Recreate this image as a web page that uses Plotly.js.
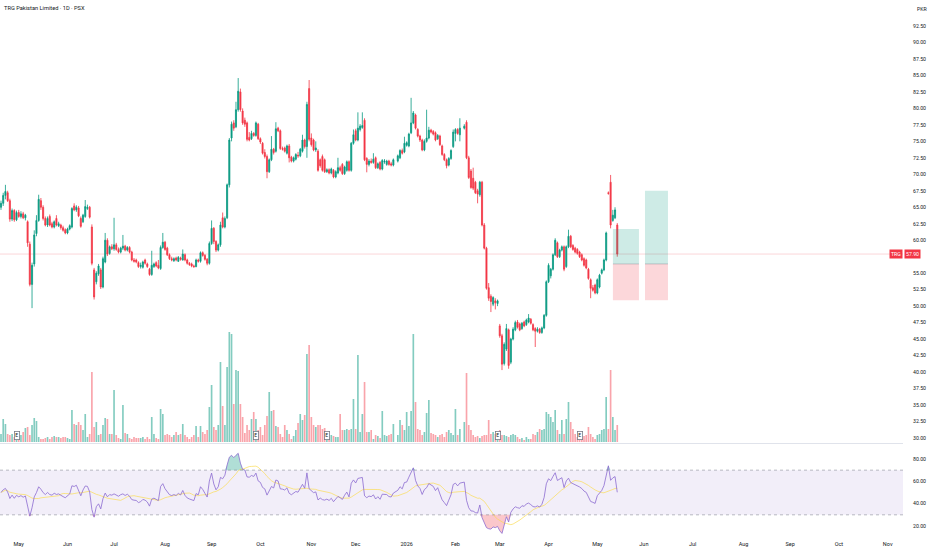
<!DOCTYPE html>
<html><head><meta charset="utf-8">
<script src="https://cdn.plot.ly/plotly-3.0.1.min.js"></script>
<style>html,body{margin:0;padding:0;background:#fff}#chart{width:932px;height:550px}</style>
</head><body><div id="chart"></div>
<script>
// ---- data (TRG Pakistan Limited, daily, PSX) ----
const startDate = '2025-04-21';
const holidays = ['2025-12-25', '2026-02-05'];

const open = [
65.0,65.6,66.8,67.2,66.0,63.2,64.5,63.1,64.2,63.6,
64.0,63.4,62.8,59.4,53.3,56.4,61.0,63.0,66.0,65.0,
63.3,62.3,63.6,62.5,62.0,63.3,62.2,62.3,61.9,61.6,
61.1,61.7,62.0,65.2,64.6,64.9,63.3,62.8,63.6,64.8,
65.0,62.0,55.5,53.7,54.9,55.5,52.9,56.7,60.0,58.0,
59.0,58.7,59.3,58.6,58.2,58.8,59.1,58.5,58.9,58.2,
57.0,57.0,56.6,56.0,55.9,57.0,56.4,55.6,54.8,56.0,
56.6,56.2,55.7,58.9,59.7,58.8,57.8,57.2,56.9,57.3,
56.8,57.3,57.0,57.8,57.0,56.5,56.4,56.1,56.0,57.0,
56.8,58.1,57.7,57.1,56.5,59.5,61.8,59.8,58.5,59.3,
63.4,62.0,63.4,68.4,75.5,77.8,77.2,79.8,82.5,79.6,
78.2,77.8,75.6,75.4,76.2,75.9,77.6,75.4,74.7,73.3,
72.7,70.4,72.2,73.8,73.5,77.0,76.6,73.9,74.0,73.2,
74.3,72.6,72.0,72.3,72.9,72.8,73.5,75.2,74.2,83.0,
75.5,75.2,73.7,73.5,72.2,72.7,72.2,70.4,70.7,70.2,
70.6,69.6,70.2,71.0,71.5,70.1,70.6,71.9,70.6,74.7,
76.6,75.2,76.8,77.1,78.2,72.4,71.5,72.0,71.8,72.5,
71.0,71.8,70.8,71.9,71.5,72.0,71.6,71.4,72.0,72.5,
73.6,73.4,74.4,74.3,76.3,77.8,79.0,76.8,75.8,75.2,
73.7,75.0,75.5,76.7,76.5,76.3,75.4,75.8,74.3,73.0,
72.2,71.4,72.4,74.2,76.2,76.8,76.0,77.0,77.9,72.5,
70.5,69.4,68.8,67.5,66.9,68.8,62.3,58.8,52.8,51.5,
50.3,50.8,50.4,47.0,45.5,41.3,43.5,46.4,41.5,45.0,
46.4,47.6,47.3,46.6,47.6,47.2,47.6,48.0,47.2,46.6,
46.2,46.5,46.0,46.7,48.6,53.7,54.6,55.6,57.8,59.6,
57.5,58.5,59.0,56.0,59.0,60.6,59.2,58.8,58.6,58.2,
57.8,57.2,57.0,55.6,54.0,52.8,53.2,52.0,52.9,55.0,
55.5,57.0,67.2,68.8,63.0,63.4,62.3];

const high = [
66.0,67.2,68.4,67.5,66.3,64.8,64.7,64.5,64.6,64.4,
64.3,64.0,63.0,59.8,56.6,61.5,63.8,66.9,66.4,65.3,
63.6,63.6,63.9,62.8,63.0,63.8,62.8,62.5,62.2,61.8,
61.9,62.4,65.0,65.6,65.3,65.2,63.6,64.0,66.1,65.4,
65.2,62.4,55.8,55.3,56.4,55.8,57.5,61.1,60.3,59.2,
59.4,63.4,59.6,58.9,59.0,60.8,59.3,59.1,59.1,58.4,
57.3,57.2,56.8,56.6,56.9,57.2,56.6,55.8,58.4,56.6,
56.8,57.0,59.2,61.1,59.9,59.0,58.0,57.5,57.4,57.5,
57.6,57.5,58.6,58.0,57.2,56.7,56.6,56.3,57.2,57.2,
58.3,58.3,57.9,57.3,59.8,63.0,62.0,60.0,59.5,62.8,
64.2,63.6,68.6,75.5,78.0,78.2,81.0,84.6,83.0,80.0,
78.6,78.0,76.4,76.6,76.4,78.0,77.8,75.6,74.9,73.8,
73.0,72.4,75.8,74.0,77.9,77.2,76.8,74.2,74.2,74.5,
74.6,72.8,72.7,73.2,73.4,74.0,76.0,75.4,81.0,84.3,
76.2,75.4,75.0,73.8,72.4,73.0,72.4,70.9,70.9,71.0,
70.8,70.6,72.5,71.3,71.7,71.3,72.1,72.1,74.9,76.8,
76.9,79.4,77.6,79.4,78.5,72.6,72.3,72.4,73.2,72.7,
71.8,72.0,72.3,72.3,72.2,72.2,71.9,72.4,73.0,73.8,
73.9,75.7,75.0,76.3,81.6,79.6,79.2,77.0,76.0,75.4,
75.3,79.8,77.2,76.9,76.7,76.5,76.1,76.0,74.5,73.2,
72.4,72.6,73.8,76.8,77.0,77.0,78.5,77.6,78.2,72.8,
70.8,71.0,69.0,67.8,69.0,69.0,62.6,59.0,53.5,51.8,
51.5,51.2,51.0,47.3,45.8,44.5,47.3,46.6,45.2,46.8,
47.8,47.9,47.5,47.6,47.8,48.1,48.8,48.2,47.4,46.8,
46.8,46.7,46.9,48.8,53.9,56.5,55.8,58.0,60.3,59.8,
58.7,59.2,59.2,59.2,61.6,60.8,59.4,59.0,58.8,58.4,
58.0,57.4,57.2,55.8,54.2,53.2,53.4,54.2,54.9,55.7,
57.2,61.3,67.4,69.9,64.6,65.0,62.6];

const low = [
64.6,65.2,66.2,65.8,62.8,62.9,62.8,62.9,63.4,63.3,
63.2,63.0,59.0,53.0,49.7,56.0,60.6,62.8,64.6,63.0,
62.1,62.0,62.1,61.8,61.8,62.1,62.0,61.6,61.3,60.9,
60.9,61.5,61.8,64.4,64.3,63.5,61.9,62.6,63.4,64.6,
63.3,56.2,51.0,53.3,54.6,52.6,52.7,56.5,57.6,57.8,
58.5,58.4,58.4,58.0,58.0,58.5,58.3,58.3,58.0,56.8,
56.6,56.5,55.8,55.7,55.7,56.3,55.8,54.6,54.6,55.8,
55.9,55.6,55.5,58.7,58.4,57.6,57.0,56.8,56.7,56.8,
56.7,56.9,56.9,56.8,56.3,56.1,55.9,55.8,55.9,56.6,
56.6,57.5,56.9,56.2,56.3,59.3,59.4,58.2,58.3,59.0,
61.8,61.8,63.2,68.0,75.0,76.6,77.0,79.5,79.5,77.5,
77.2,75.0,75.0,75.2,75.7,75.7,75.2,74.6,73.0,72.4,
69.4,70.2,72.0,73.0,73.3,76.4,73.7,73.6,73.3,73.0,
71.8,71.8,71.8,72.1,72.5,72.6,73.3,73.9,72.5,75.0,
74.2,73.5,73.4,70.4,71.0,70.4,70.2,70.2,70.0,70.0,
69.4,69.4,70.0,70.4,69.9,69.9,70.4,70.4,70.4,74.5,
75.0,75.0,76.5,76.9,72.0,70.3,71.2,71.6,71.6,70.8,
70.8,70.6,70.6,71.6,71.3,71.3,71.2,71.2,71.8,72.3,
73.0,73.2,74.2,74.1,76.1,77.6,76.8,75.6,74.9,73.5,
73.5,74.8,75.3,76.2,75.9,75.0,75.2,74.3,72.8,72.0,
70.9,71.2,72.2,74.0,75.0,76.0,75.0,76.8,72.3,69.3,
67.8,67.6,67.0,65.6,66.6,62.1,58.6,52.5,50.8,49.1,
50.0,49.5,50.0,45.2,40.3,41.0,43.2,40.5,41.2,44.8,
46.2,46.6,46.2,46.4,46.8,47.0,47.4,47.2,46.2,43.8,
46.0,45.8,45.8,46.5,48.4,53.5,54.2,55.4,57.6,57.3,
57.3,58.3,55.3,55.8,58.8,58.8,58.4,58.0,57.8,57.3,
56.8,56.0,55.6,54.0,51.2,52.2,51.8,51.8,52.7,54.8,
55.3,56.8,66.9,61.8,62.8,63.2,57.5];

const close = [
65.6,66.8,67.4,66.0,63.2,64.5,63.1,64.2,63.6,64.0,
63.4,63.8,59.6,53.3,56.2,60.8,63.0,66.2,65.0,63.3,
62.3,63.3,62.3,62.0,62.8,62.3,62.5,61.9,61.5,61.1,
61.7,62.2,64.8,64.6,65.0,63.7,62.1,63.8,65.1,65.0,
63.5,56.5,51.4,55.0,56.1,52.9,57.2,60.0,57.9,59.0,
58.7,59.3,58.6,58.2,58.8,59.1,58.5,58.9,58.2,57.0,
56.8,56.7,56.0,56.2,56.7,56.5,56.0,54.8,56.2,56.4,
56.1,55.8,58.9,59.7,58.6,57.8,57.2,57.0,57.2,57.0,
57.4,57.1,57.9,57.0,56.5,56.3,56.1,56.0,57.0,56.8,
58.1,57.7,57.1,56.5,59.5,61.8,59.8,58.5,59.3,62.3,
62.0,63.3,68.4,75.2,77.6,77.0,79.8,82.6,79.8,77.8,
77.6,75.3,75.2,76.2,75.9,77.8,75.4,74.9,73.2,72.7,
70.4,72.2,73.8,73.3,76.9,76.6,73.9,73.8,73.5,74.3,
72.5,72.0,72.5,73.0,72.8,73.8,75.2,74.2,80.6,75.3,
74.5,73.7,74.0,70.6,71.3,70.6,70.4,70.7,70.2,70.8,
69.6,70.4,71.0,70.6,70.1,71.1,71.9,70.6,74.7,76.0,
75.2,77.0,77.3,77.4,72.2,71.5,72.0,71.8,72.3,71.0,
71.6,70.8,72.1,72.0,72.0,71.5,71.4,72.2,72.8,73.6,
73.2,74.7,74.8,76.1,77.8,79.3,77.0,75.8,75.2,73.7,
75.0,75.5,76.7,76.4,76.1,75.2,75.9,74.5,73.0,72.2,
71.3,72.4,73.6,76.4,76.8,76.2,77.0,77.3,72.5,69.5,
68.0,67.9,67.2,67.0,68.8,62.3,58.8,52.7,51.2,50.7,
51.3,50.5,50.8,45.5,41.2,44.2,46.6,41.0,45.0,46.5,
47.5,46.8,46.4,47.4,47.0,47.9,48.2,47.4,46.4,46.2,
46.5,46.0,46.7,48.6,53.7,56.2,55.6,57.8,60.0,57.5,
58.5,59.0,55.6,59.0,60.6,59.0,58.6,58.2,58.0,57.5,
57.0,56.2,55.8,54.2,52.7,52.4,52.0,54.0,54.7,55.5,
57.0,61.1,67.1,62.3,63.8,64.6,57.9];

// volume in units of 100k shares
const volume = [
8,23,18,8,7,8,5,5,6,7,
10,14,15,7,17,24,21,5,3,3,
4,5,3,5,6,5,5,4,5,5,4,3,
32,18,17,20,17,12,28,5,8,70,
15,20,7,8,17,24,23,8,8,52,
7,4,3,37,9,8,4,3,5,4,4,
4,5,3,5,3,25,8,4,3,33,
28,7,8,7,5,7,10,7,8,18,
7,5,3,5,7,16,5,16,10,8,
12,35,57,15,12,17,80,36,17,75,
110,108,38,72,71,38,25,9,17,12,
23,30,23,12,15,7,17,26,50,31,
32,16,15,8,5,17,12,8,3,6,12,
19,28,22,27,88,97,25,17,15,17,
17,13,14,8,5,7,6,5,5,28,12,
12,13,12,13,43,13,87,10,28,60,
10,10,12,3,7,6,4,31,7,6,
7,8,18,7,22,17,12,30,16,31,
108,40,13,12,7,10,29,42,9,8,
7,5,7,8,5,10,12,9,7,33,
7,13,20,69,17,12,7,5,6,4,
6,7,7,22,8,10,8,7,12,7,
7,6,5,7,8,7,5,3,4,2,
5,3,3,8,7,10,13,12,13,30,
28,25,20,32,12,8,22,8,23,40,
20,13,8,5,7,4,6,7,15,8,
5,3,7,8,12,13,45,13,72,25,
12,17];

const monthTickDates = ['2025-05-01','2025-06-02','2025-07-01','2025-08-01','2025-09-01','2025-10-01','2025-11-03','2025-12-01','2026-01-01','2026-02-02','2026-03-02','2026-04-01','2026-05-01','2026-06-01','2026-07-01','2026-08-03','2026-09-01','2026-10-01','2026-11-02'];
const monthTickLabels = ['May','Jun','Jul','Aug','Sep','Oct','Nov','Dec','2026','Feb','Mar','Apr','May','Jun','Jul','Aug','Sep','Oct','Nov'];
// 57.50 is hidden behind the last-price label in the reference
const priceTicks = [30,32.5,35,37.5,40,42.5,45,47.5,50,52.5,55,60,62.5,65,67.5,70,72.5,75,77.5,80,82.5,85,87.5,90,92.5];
const rsiTicks = [20,40,60,80];
const earningsDates = ['2025-04-30','2025-09-29','2025-11-12','2026-02-27','2026-04-21'];

// long-position drawings
const posStart  = ['2026-05-12 01:00','2026-06-01 12:00'];
const posEnd    = ['2026-05-27 19:00','2026-06-15 21:00'];
const posTarget = [61.7, 67.5];
const posEntry  = [56.4, 56.4];
const posStop   = [50.9, 50.9];

// ---- helpers ----
function tradingDates(start, n, hol) {
  const out = []; const d = new Date(start + 'T00:00:00Z');
  while (out.length < n) {
    const dow = d.getUTCDay(); const s = d.toISOString().slice(0, 10);
    if (dow !== 0 && dow !== 6 && !hol.includes(s)) out.push(s);
    d.setUTCDate(d.getUTCDate() + 1);
  }
  return out;
}
function wilderRSI(c, n) {
  let s = 0; for (let i = 1; i <= n; i++) s += Math.abs(c[i] - c[i - 1]);
  let ag = s / n / 2, al = s / n / 2;
  const out = [100 - 100 / (1 + ag / al)];
  for (let i = 1; i < c.length; i++) {
    const ch = c[i] - c[i - 1];
    ag = (ag * (n - 1) + Math.max(ch, 0)) / n;
    al = (al * (n - 1) + Math.max(-ch, 0)) / n;
    out.push(100 - 100 / (1 + ag / al));
  }
  return out;
}
function sma(a, n) {
  return a.map((v, i) => { const s = a.slice(Math.max(0, i - n + 1), i + 1); return s.reduce((x, y) => x + y, 0) / s.length; });
}

const N = close.length;
const dates = tradingDates(startDate, N, holidays);
const rsi = wilderRSI(close, 14);
const rsiMA = sma(rsi, 14);
const lastClose = close[N - 1];

const GREEN = '#089981', RED = '#f23645';
const volColors = close.map((c, i) => c >= open[i] ? 'rgba(8,153,129,0.5)' : 'rgba(242,54,69,0.45)');

const traces = [
  { type: 'bar', x: dates, y: volume, xaxis: 'x', yaxis: 'y3', marker: { color: volColors, line: { width: 0 } }, hoverinfo: 'skip' },
  { type: 'candlestick', x: dates, open: open, high: high, low: low, close: close, xaxis: 'x', yaxis: 'y',
    increasing: { line: { color: GREEN, width: 0.8 }, fillcolor: GREEN },
    decreasing: { line: { color: RED, width: 0.8 }, fillcolor: RED },
    whiskerwidth: 0, hoverinfo: 'skip' },
  { type: 'scatter', mode: 'lines', x: dates, y: dates.map(() => 70), xaxis: 'x', yaxis: 'y2', line: { width: 0 }, hoverinfo: 'skip' },
  { type: 'scatter', mode: 'lines', x: dates, y: rsi.map(v => Math.max(v, 70)), xaxis: 'x', yaxis: 'y2', line: { width: 0 }, fill: 'tonexty', fillcolor: 'rgba(8,153,129,0.32)', hoverinfo: 'skip' },
  { type: 'scatter', mode: 'lines', x: dates, y: dates.map(() => 30), xaxis: 'x', yaxis: 'y2', line: { width: 0 }, hoverinfo: 'skip' },
  { type: 'scatter', mode: 'lines', x: dates, y: rsi.map(v => Math.min(v, 30)), xaxis: 'x', yaxis: 'y2', line: { width: 0 }, fill: 'tonexty', fillcolor: 'rgba(242,54,69,0.28)', hoverinfo: 'skip' },
  { type: 'scatter', mode: 'lines', x: dates, y: rsiMA, xaxis: 'x', yaxis: 'y2', line: { color: 'rgba(250,220,80,0.85)', width: 0.8 }, hoverinfo: 'skip' },
  { type: 'scatter', mode: 'lines', x: dates, y: rsi, xaxis: 'x', yaxis: 'y2', line: { color: '#8c6bd0', width: 0.8 }, hoverinfo: 'skip' }
];

const shapes = [
  { type: 'rect', xref: 'paper', x0: 0, x1: 1, yref: 'y2', y0: 30, y1: 70, fillcolor: 'rgba(126,87,194,0.1)', line: { width: 0 }, layer: 'below' },
  { type: 'line', xref: 'paper', x0: 0, x1: 1, yref: 'y2', y0: 70, y1: 70, line: { color: 'rgba(120,123,134,0.5)', width: 1, dash: 'dot' } },
  { type: 'line', xref: 'paper', x0: 0, x1: 1, yref: 'y2', y0: 30, y1: 30, line: { color: 'rgba(120,123,134,0.5)', width: 1, dash: 'dot' } },
  { type: 'line', xref: 'paper', x0: 0, x1: 1, yref: 'paper', y0: 0.1757, y1: 0.1757, line: { color: '#e0e3eb', width: 1 } },
  { type: 'line', xref: 'paper', x0: 0, x1: 1, yref: 'y', y0: lastClose, y1: lastClose, line: { color: 'rgba(242,54,69,0.2)', width: 1 }, layer: 'below' }
];
posStart.forEach((s, k) => {
  shapes.push({ type: 'rect', xref: 'x', yref: 'y', x0: s, x1: posEnd[k], y0: posEntry[k], y1: posTarget[k], fillcolor: 'rgba(8,153,129,0.2)', line: { width: 0 } });
  shapes.push({ type: 'rect', xref: 'x', yref: 'y', x0: s, x1: posEnd[k], y0: posStop[k], y1: posEntry[k], fillcolor: 'rgba(242,54,69,0.2)', line: { width: 0 } });
  shapes.push({ type: 'line', xref: 'x', yref: 'y', x0: s, x1: posEnd[k], y0: posEntry[k], y1: posEntry[k], line: { color: 'rgba(120,123,134,0.45)', width: 0.8 } });
});

const annotations = [
  { xref: 'paper', yref: 'paper', x: 0, y: 1, xanchor: 'left', yanchor: 'top', xshift: 2, yshift: -3, showarrow: false,
    text: 'TRG Pakistan Limited · 1D · PSX', font: { size: 5.7, color: '#131722' } },
  { xref: 'paper', yref: 'paper', x: 1, y: 1, xanchor: 'left', yanchor: 'top', xshift: 12, yshift: -4, showarrow: false,
    text: 'PKR', font: { size: 5.2, color: '#131722' } },
  { xref: 'paper', yref: 'y', x: 1, y: lastClose, xanchor: 'right', yanchor: 'middle', xshift: 0, showarrow: false,
    text: 'TRG', font: { size: 5.2, color: '#ffffff' }, bgcolor: RED, borderpad: 1 },
  { xref: 'paper', yref: 'y', x: 1, y: lastClose, xanchor: 'left', yanchor: 'middle', xshift: 1, showarrow: false,
    text: lastClose.toFixed(2), font: { size: 5.2, color: '#ffffff' }, bgcolor: RED, borderpad: 1 }
];
earningsDates.forEach(d => annotations.push({ xref: 'x', yref: 'y3', x: d, y: 6, showarrow: false, text: 'E',
  font: { size: 5, color: '#131722' }, bgcolor: '#ffffff', bordercolor: '#787b86', borderwidth: 0.8, borderpad: 0.5 }));

const layout = {
  width: 932, height: 550, margin: { l: 0, r: 29, t: 0, b: 12 },
  paper_bgcolor: '#ffffff', plot_bgcolor: '#ffffff', showlegend: false, hovermode: false,
  font: { family: 'Roboto, "Noto Sans", sans-serif', size: 5.5, color: '#131722' },
  xaxis: { type: 'date', range: ['2025-04-18 13:12', '2026-11-10 21:36'], rangebreaks: [{ bounds: ['sat', 'mon'] }],
    tickvals: monthTickDates, ticktext: monthTickLabels, showgrid: false, zeroline: false, showline: false, ticks: '',
    anchor: 'y2', rangeslider: { visible: false }, tickfont: { size: 5.5, color: '#131722' }, ticklabelstandoff: 1 },
  yaxis: { domain: [0.1766, 1], range: [29.24, 96.44], side: 'right', anchor: 'x', tickvals: priceTicks, tickformat: '.2f',
    showgrid: false, zeroline: false, showline: false, ticks: '', tickfont: { size: 5.2, color: '#131722' }, ticklabelstandoff: 9 },
  yaxis2: { domain: [0, 0.1729], range: [9.25, 92.54], side: 'right', anchor: 'x', tickvals: rsiTicks, tickformat: '.2f',
    showgrid: false, zeroline: false, showline: false, ticks: '', tickfont: { size: 5.2, color: '#131722' }, ticklabelstandoff: 9 },
  yaxis3: { overlaying: 'y', range: [-1, 442], visible: false, fixedrange: true },
  shapes: shapes, annotations: annotations, bargap: 0.25
};

Plotly.newPlot('chart', traces, layout, { displayModeBar: false, staticPlot: true });
</script>
</body></html>
